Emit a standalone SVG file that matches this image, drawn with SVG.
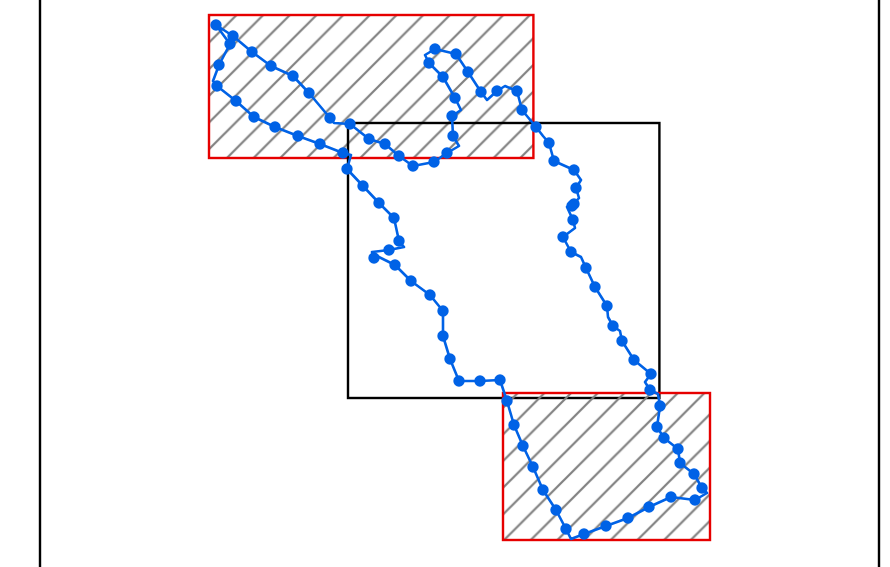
<svg xmlns="http://www.w3.org/2000/svg" width="890" height="567" viewBox="0 0 890 567">
<style>
.frame{fill:none;stroke:#000;stroke-width:2.4}
.hatched{stroke:#e60000;stroke-width:2.4}
.curve{fill:none;stroke:#0062e6;stroke-width:2.6;stroke-linejoin:round}
.dot{fill:#0062e6;stroke:none}
</style>
<defs>
<pattern id="hatchA" patternUnits="userSpaceOnUse" width="26.67" height="26.67" patternTransform="translate(11.5 0)">
<path d="M-2 28.67L28.67-2M-2 2L2-2M24.67 28.67L28.67 24.67" stroke="#808080" stroke-width="2.2" fill="none"/>
</pattern>
<pattern id="hatchB" patternUnits="userSpaceOnUse" width="26.67" height="26.67" patternTransform="translate(4 0)">
<path d="M-2 28.67L28.67-2M-2 2L2-2M24.67 28.67L28.67 24.67" stroke="#808080" stroke-width="2.2" fill="none"/>
</pattern>
<circle id="d" class="dot" r="5.7"/>
</defs>
<rect width="890" height="567" fill="#fff"/>
<g id="border"><path class="frame" d="M40 0V567M879 0V567"/></g>
<g id="box-top"><rect class="hatched" x="209" y="15" width="324.4" height="143" fill="url(#hatchA)"/></g>
<g id="box-center"><rect class="frame" x="348" y="123" width="311.4" height="275"/></g>
<g id="box-bottom"><rect class="hatched" x="503" y="393" width="207" height="147" fill="url(#hatchB)"/></g>
<g id="connectors">
<polyline class="curve" points="216,25 233,36 252,52 271,66 293,76 309,93 330,118 334,123 350,124 369,139 385,144 399,156 413,166 434,162 447,153 459,146 453,136 452,116 461,110 455,98 443,77 429,63 425,55 435,49 456,54 468,72 481,92 487,100 497,91 505,86 517,91 522,110 536,127 543,136 549,143 554,161 574,170 581,180 576,188 579,198 574,204 567,207 573,220 575,228 563,237 571,252 581,257 586,268 595,287 607,306 608,317 613,326 620,331 622,341 634,360 651,374 645,382 650,390 658,394 660,406 657,427 664,438 678,449 680,463 694,474 702,488 707,493 695,500 671,497 649,507 628,518 606,526 584,534 571,539 566,529 556,510 543,490 533,467 523,446 514,425 507,401 500,380 480,381 459,381 450,359 443,336 443,311 430,295 411,281 395,265 375,255 374,258 372,252 389,250 404,247 399,241 394,218 379,203 363,186 347,169 351,155 343,153 320,144 298,136 275,127 254,117 236,101 217,86 213,81 219,65 230,44 216,25"/>
</g>
<g id="markers">
<use href="#d" x="216" y="25"/><use href="#d" x="233" y="36"/><use href="#d" x="252" y="52"/><use href="#d" x="271" y="66"/><use href="#d" x="293" y="76"/><use href="#d" x="309" y="93"/><use href="#d" x="330" y="118"/><use href="#d" x="350" y="124"/><use href="#d" x="369" y="139"/><use href="#d" x="385" y="144"/><use href="#d" x="399" y="156"/><use href="#d" x="413" y="166"/><use href="#d" x="434" y="162"/><use href="#d" x="447" y="153"/><use href="#d" x="453" y="136"/><use href="#d" x="452" y="116"/><use href="#d" x="455" y="98"/><use href="#d" x="443" y="77"/><use href="#d" x="429" y="63"/><use href="#d" x="435" y="49"/><use href="#d" x="456" y="54"/><use href="#d" x="468" y="72"/><use href="#d" x="481" y="92"/><use href="#d" x="497" y="91"/><use href="#d" x="517" y="91"/><use href="#d" x="522" y="110"/><use href="#d" x="536" y="127"/><use href="#d" x="549" y="143"/><use href="#d" x="554" y="161"/><use href="#d" x="574" y="170"/><use href="#d" x="576" y="188"/><use href="#d" x="574" y="204"/><use href="#d" x="572" y="206"/><use href="#d" x="573" y="220"/><use href="#d" x="563" y="237"/><use href="#d" x="571" y="252"/><use href="#d" x="586" y="268"/><use href="#d" x="595" y="287"/><use href="#d" x="607" y="306"/><use href="#d" x="613" y="326"/><use href="#d" x="622" y="341"/><use href="#d" x="634" y="360"/><use href="#d" x="651" y="374"/><use href="#d" x="650" y="390"/><use href="#d" x="660" y="406"/><use href="#d" x="657" y="427"/><use href="#d" x="664" y="438"/><use href="#d" x="678" y="449"/><use href="#d" x="680" y="463"/><use href="#d" x="694" y="474"/><use href="#d" x="702" y="488"/><use href="#d" x="695" y="500"/><use href="#d" x="671" y="497"/><use href="#d" x="649" y="507"/><use href="#d" x="628" y="518"/><use href="#d" x="606" y="526"/><use href="#d" x="584" y="534"/><use href="#d" x="566" y="529"/><use href="#d" x="556" y="510"/><use href="#d" x="543" y="490"/><use href="#d" x="533" y="467"/><use href="#d" x="523" y="446"/><use href="#d" x="514" y="425"/><use href="#d" x="507" y="401"/><use href="#d" x="500" y="380"/><use href="#d" x="480" y="381"/><use href="#d" x="459" y="381"/><use href="#d" x="450" y="359"/><use href="#d" x="443" y="336"/><use href="#d" x="443" y="311"/><use href="#d" x="430" y="295"/><use href="#d" x="411" y="281"/><use href="#d" x="395" y="265"/><use href="#d" x="374" y="258"/><use href="#d" x="389" y="250"/><use href="#d" x="399" y="241"/><use href="#d" x="394" y="218"/><use href="#d" x="379" y="203"/><use href="#d" x="363" y="186"/><use href="#d" x="347" y="169"/><use href="#d" x="343" y="153"/><use href="#d" x="320" y="144"/><use href="#d" x="298" y="136"/><use href="#d" x="275" y="127"/><use href="#d" x="254" y="117"/><use href="#d" x="236" y="101"/><use href="#d" x="217" y="86"/><use href="#d" x="219" y="65"/><use href="#d" x="230" y="44"/>
</g>
</svg>
